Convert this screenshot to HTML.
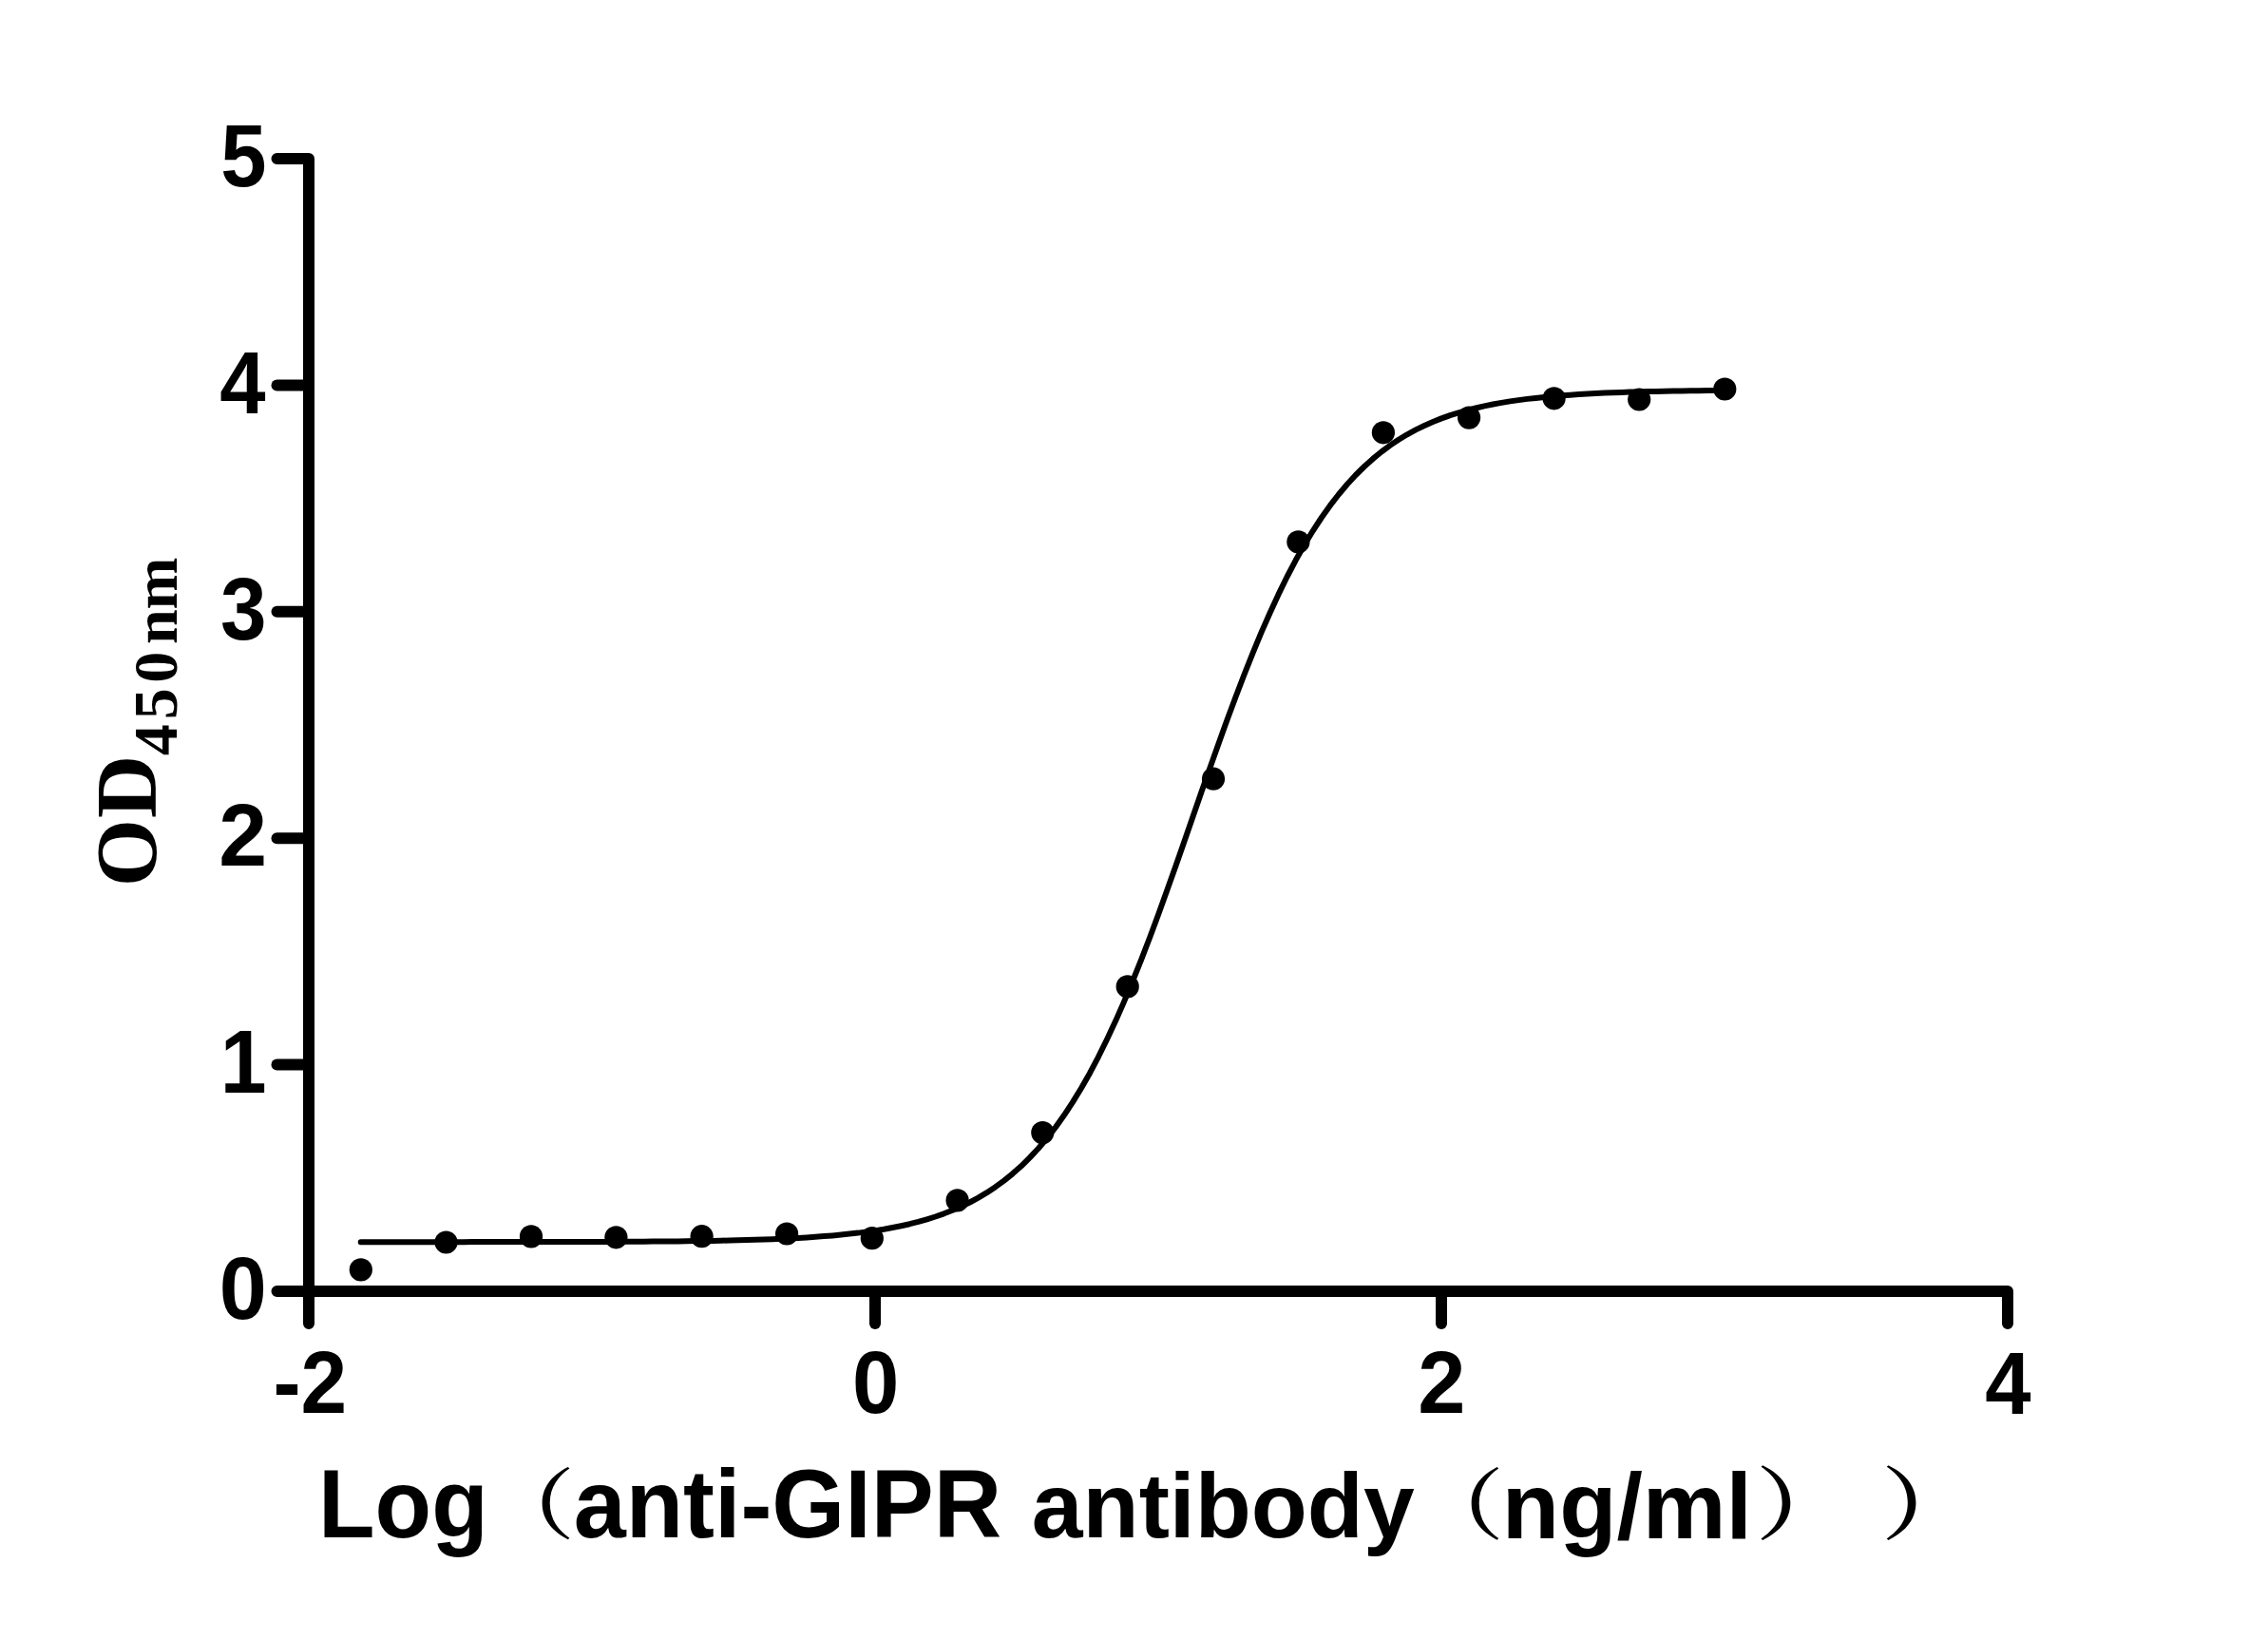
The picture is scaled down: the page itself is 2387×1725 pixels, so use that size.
<!DOCTYPE html>
<html lang="en">
<head>
<meta charset="utf-8">
<title>Log(anti-GIPR antibody (ng/ml)) vs OD450nm</title>
<style>
html,body{margin:0;padding:0;background:#fff;}
body{width:2387px;height:1725px;overflow:hidden;}
svg{display:block;}
.ax path{fill:none;stroke:#000;stroke-width:12;stroke-linecap:round;stroke-linejoin:round;}
.curve{fill:none;stroke:#000;stroke-width:6;stroke-linecap:round;stroke-linejoin:round;}
text{font-family:"Liberation Sans",sans-serif;font-weight:700;fill:#000;}
.cjk{font-family:"Liberation Sans","Noto Serif CJK SC",serif;font-weight:600;}
.serif{font-family:"Liberation Serif",serif;font-weight:700;}
</style>
</head>
<body>
<svg width="2387" height="1725" viewBox="0 0 2387 1725">
<rect width="2387" height="1725" fill="#fff"/>
<g class="ax">
<path d="M291.5,167.0 H325.0 V1393.0"/>
<path d="M291.5,1359.0 H2113.0 V1393.0"/>
<path d="M291.5,1120.6 H325.0"/>
<path d="M291.5,882.2 H325.0"/>
<path d="M291.5,643.8 H325.0"/>
<path d="M291.5,405.4 H325.0"/>
<path d="M921.0,1359.0 V1393.0"/>
<path d="M1517.0,1359.0 V1393.0"/>
</g>
<path class="curve" d="M379.7,1307.2 L388.7,1307.2 L397.7,1307.2 L406.8,1307.2 L415.8,1307.2 L424.8,1307.2 L433.9,1307.2 L442.9,1307.2 L451.9,1307.2 L460.9,1307.2 L470.0,1307.2 L479.0,1307.2 L488.0,1307.2 L497.0,1307.1 L506.1,1307.1 L515.1,1307.1 L524.1,1307.1 L533.1,1307.1 L542.2,1307.1 L551.2,1307.1 L560.2,1307.1 L569.3,1307.1 L578.3,1307.1 L587.3,1307.0 L596.3,1307.0 L605.4,1307.0 L614.4,1307.0 L623.4,1306.9 L632.4,1306.9 L641.5,1306.9 L650.5,1306.8 L659.5,1306.8 L668.6,1306.7 L677.6,1306.7 L686.6,1306.6 L695.6,1306.5 L704.7,1306.4 L713.7,1306.4 L722.7,1306.2 L731.7,1306.1 L740.8,1306.0 L749.8,1305.9 L758.8,1305.7 L767.9,1305.5 L776.9,1305.3 L785.9,1305.1 L794.9,1304.8 L804.0,1304.5 L813.0,1304.2 L822.0,1303.8 L831.0,1303.4 L840.1,1302.9 L849.1,1302.4 L858.1,1301.8 L867.2,1301.1 L876.2,1300.4 L885.2,1299.6 L894.2,1298.6 L903.3,1297.6 L912.3,1296.4 L921.3,1295.1 L930.3,1293.7 L939.4,1292.0 L948.4,1290.2 L957.4,1288.2 L966.5,1285.9 L975.5,1283.3 L984.5,1280.5 L993.5,1277.3 L1002.6,1273.8 L1011.6,1269.8 L1020.6,1265.5 L1029.6,1260.6 L1038.7,1255.2 L1047.7,1249.2 L1056.7,1242.6 L1065.7,1235.3 L1074.8,1227.3 L1083.8,1218.4 L1092.8,1208.7 L1101.9,1198.1 L1110.9,1186.5 L1119.9,1173.8 L1128.9,1160.1 L1138.0,1145.3 L1147.0,1129.4 L1156.0,1112.3 L1165.0,1094.0 L1174.1,1074.6 L1183.1,1054.1 L1192.1,1032.5 L1201.2,1009.9 L1210.2,986.5 L1219.2,962.2 L1228.2,937.3 L1237.3,911.8 L1246.3,886.1 L1255.3,860.1 L1264.3,834.1 L1273.4,808.3 L1282.4,782.9 L1291.4,757.9 L1300.5,733.5 L1309.5,710.0 L1318.5,687.3 L1327.5,665.6 L1336.6,645.0 L1345.6,625.4 L1354.6,607.0 L1363.6,589.8 L1372.7,573.7 L1381.7,558.8 L1390.7,545.0 L1399.8,532.2 L1408.8,520.5 L1417.8,509.8 L1426.8,500.0 L1435.9,491.0 L1444.9,482.9 L1453.9,475.5 L1462.9,468.8 L1472.0,462.8 L1481.0,457.3 L1490.0,452.4 L1499.1,448.0 L1508.1,444.0 L1517.1,440.4 L1526.1,437.2 L1535.2,434.3 L1544.2,431.8 L1553.2,429.5 L1562.2,427.4 L1571.3,425.5 L1580.3,423.9 L1589.3,422.4 L1598.3,421.1 L1607.4,419.9 L1616.4,418.9 L1625.4,417.9 L1634.5,417.1 L1643.5,416.3 L1652.5,415.7 L1661.5,415.1 L1670.6,414.5 L1679.6,414.1 L1688.6,413.6 L1697.6,413.3 L1706.7,412.9 L1715.7,412.6 L1724.7,412.4 L1733.8,412.1 L1742.8,411.9 L1751.8,411.7 L1760.8,411.6 L1769.9,411.4 L1778.9,411.3 L1787.9,411.2 L1796.9,411.1 L1806.0,411.0 L1815.0,410.9"/>
<g fill="#000">
<circle cx="1815.3" cy="409.5" r="12.1"/>
<circle cx="1725.2" cy="420.5" r="12.1"/>
<circle cx="1635.6" cy="419.3" r="12.1"/>
<circle cx="1546.1" cy="439.6" r="12.1"/>
<circle cx="1455.9" cy="455.3" r="12.1"/>
<circle cx="1366.4" cy="570.4" r="12.1"/>
<circle cx="1277.0" cy="819.7" r="12.1"/>
<circle cx="1186.7" cy="1038.4" r="12.1"/>
<circle cx="1097.3" cy="1192.1" r="12.1"/>
<circle cx="1007.6" cy="1263.4" r="12.1"/>
<circle cx="917.8" cy="1303.2" r="12.1"/>
<circle cx="828.1" cy="1298.5" r="12.1"/>
<circle cx="738.6" cy="1301.2" r="12.1"/>
<circle cx="648.4" cy="1302.3" r="12.1"/>
<circle cx="559.0" cy="1301.4" r="12.1"/>
<circle cx="469.5" cy="1307.5" r="12.1"/>
<circle cx="379.8" cy="1336.4" r="12.1"/>
</g>
<g>
<text font-size="89px" transform="translate(232.14,195.56) scale(0.9757,1.0403)">5</text>
<text font-size="89px" transform="translate(231.17,435.33) scale(0.9761,1.0392)">4</text>
<text font-size="89px" transform="translate(231.97,672.95) scale(0.9802,1.0476)">3</text>
<text font-size="89px" transform="translate(230.13,910.70) scale(1.0273,1.0435)">2</text>
<text font-size="89px" transform="translate(231.66,1149.90) scale(0.9860,1.0571)">1</text>
<text font-size="89px" transform="translate(230.63,1388.05) scale(1.0102,1.0508)">0</text>
<text font-size="89px" transform="translate(287.46,1486.80) scale(0.9824,1.0484)">-2</text>
<text font-size="89px" transform="translate(897.08,1486.95) scale(0.9960,1.0460)">0</text>
<text font-size="89px" transform="translate(1492.37,1487.00) scale(1.0133,1.0516)">2</text>
<text font-size="89px" transform="translate(2089.27,1487.53) scale(0.9761,1.0424)">4</text>
</g>
<text><tspan x="335.08" y="1617.74" font-size="102.26px" textLength="178.64" lengthAdjust="spacingAndGlyphs">Log</tspan><tspan class="cjk" x="507.47" y="1612.68" font-size="80.85px" textLength="97.71" lengthAdjust="spacingAndGlyphs">（</tspan><tspan x="603.72" y="1617.78" font-size="101.98px" textLength="450.31" lengthAdjust="spacingAndGlyphs">anti-GIPR</tspan> <tspan x="1085.79" y="1618.01" font-size="97.16px" textLength="402.90" lengthAdjust="spacingAndGlyphs">antibody</tspan><tspan class="cjk" x="1485.92" y="1613.04" font-size="81.39px" textLength="97.02" lengthAdjust="spacingAndGlyphs">（</tspan><tspan x="1580.86" y="1618.87" font-size="98.33px" textLength="263.14" lengthAdjust="spacingAndGlyphs">ng/ml</tspan><tspan class="cjk" x="1847.39" y="1613.87" font-size="83.66px" textLength="104.75" lengthAdjust="spacingAndGlyphs">）</tspan> <tspan class="cjk" x="1979.41" y="1613.87" font-size="83.66px" textLength="104.40" lengthAdjust="spacingAndGlyphs">）</tspan></text>
<text class="serif" transform="rotate(-90)"><tspan x="-933.17 -861.09" y="164.48" font-size="91.67px">OD</tspan><tspan x="-795.29 -757.35 -718.70 -678.12 -641.59" y="186.21" font-size="66.00px">450nm</tspan></text>
</svg>
</body>
</html>
